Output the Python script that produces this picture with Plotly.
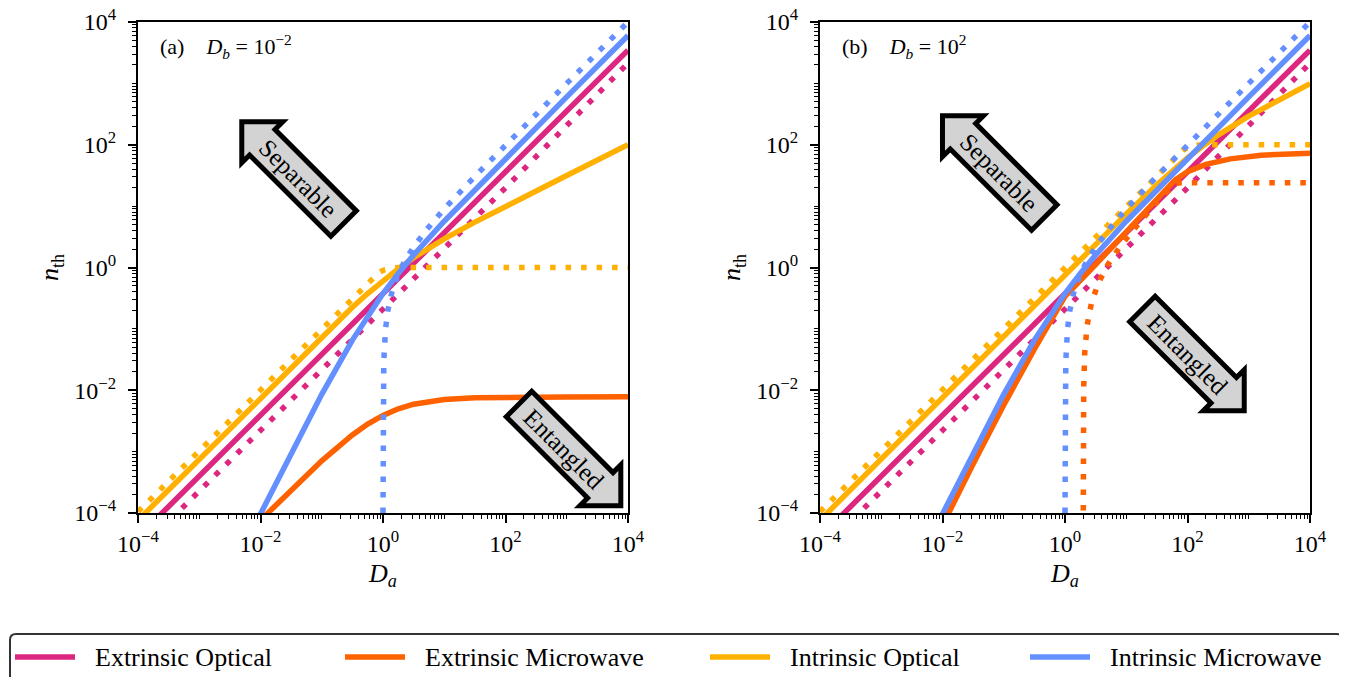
import plotly.graph_objects as go

# ---------------- data ----------------
series_names = ["Extrinsic Optical", "Extrinsic Microwave", "Intrinsic Optical", "Intrinsic Microwave"]
series_colors = ["#dc267f", "#fe6100", "#ffb000", "#648fff"]

panel_labels = ["(a)", "(b)"]
panel_db = ["10<sup>\u22122</sup>", "10<sup>2</sup>"]

tick_vals = [1e-4, 1e-2, 1, 1e2, 1e4]
tick_text = ["10<sup>\u22124</sup>", "10<sup>\u22122</sup>", "10<sup>0</sup>", "10<sup>2</sup>", "10<sup>4</sup>"]

# Extrinsic optical (same in both panels)
da_eo = [1e-4, 1e-2, 1, 1e2, 1e4]
eo_solid = [4.07e-5, 3.85e-3, 0.376, 36.5, 3470]
eo_dotted = [2.34e-5, 2.2e-3, 0.21, 19.9, 2140]

# Intrinsic microwave (same in both panels)
da_im = [0.00631, 0.01, 0.0316, 0.1, 0.316, 0.562, 1, 1.78, 3.16, 10, 100, 1000, 10000]
im_solid = [3.94e-5, 9.84e-5, 9.5e-4, 8.58e-3, 0.0656, 0.164, 0.376, 0.80, 1.60, 5.68, 59.9, 602, 6024]
da_im_dot = [1.0001, 1.001, 1.003, 1.01, 1.03, 1.1, 1.2, 1.4, 1.7, 2.2, 3, 5, 10, 30, 100, 1000, 10000]
im_dotted = [1e-4, 1e-3, 3e-3, 0.01, 0.03, 0.1, 0.2, 0.4, 0.7, 1.2, 2, 4, 9, 29, 99, 999, 9999]

# Panel (a): D_b = 1e-2
da_io_a = [1e-4, 1e-3, 1e-2, 0.1, 0.316, 0.562, 1, 1.78, 3.16, 5.62, 10, 31.6, 100, 1000, 10000]
io_solid_a = [7.6e-5, 7.6e-4, 7.6e-3, 0.0745, 0.2247, 0.377, 0.613, 0.958, 1.44, 2.08, 2.93, 5.48, 9.92, 31.6, 100]
da_io_dot_a = [1e-4, 0.5, 0.7, 0.85, 1.0, 1.2, 1.5, 2, 1e4]
io_dotted_a = [1.05e-4, 0.51, 0.70, 0.82, 0.90, 0.96, 0.99, 1.0, 1.0]
da_em_a = [0.00631, 0.01, 0.0316, 0.1, 0.316, 0.562, 1, 1.78, 3.16, 10, 31.6, 100, 1000, 10000]
em_solid_a = [4.89e-5, 7.72e-5, 2.39e-4, 7.09e-4, 1.87e-3, 2.81e-3, 3.9e-3, 4.99e-3, 5.93e-3, 7.09e-3, 7.56e-3, 7.72e-3, 7.79e-3, 7.8e-3]

# Panel (b): D_b = 1e2
da_io_b = [1e-4, 1e-3, 1e-2, 0.1, 1, 10, 31.6, 50, 100, 178, 316, 1000, 3162, 10000]
io_solid_b = [7.6e-5, 7.6e-4, 7.6e-3, 0.076, 0.76, 7.47, 22.3, 33.8, 61.0, 95.5, 143.6, 292.5, 548, 992]
da_io_dot_b = [1e-4, 50, 70, 85, 100, 120, 150, 200, 1e4]
io_dotted_b = [1.05e-4, 51, 70, 82, 90, 96, 99, 100, 100]
da_em_b = [0.00794, 0.0126, 0.0316, 0.1, 0.316, 1, 3.16, 10, 31.6, 63.1, 100, 200, 501, 1585, 10000]
em_solid_b = [4.47e-5, 1e-4, 6.3e-4, 5.75e-3, 0.0468, 0.339, 1.12, 3.8, 12.6, 26.9, 36.3, 47.9, 58.9, 67.6, 72.4]
da_em_dot_b = [1.9903, 1.991, 1.995, 2.02, 2.1, 2.3, 2.7, 3.5, 5, 8, 15, 30, 50, 58, 65, 80, 10000]
em_dotted_b = [1.1e-4, 3.7e-4, 1.85e-3, 0.0111, 0.0407, 0.115, 0.263, 0.559, 1.11, 2.22, 4.81, 11.0, 18.5, 21.8, 23.5, 24, 24]

# ---------------- figure ----------------
# The page body keeps the browser's default 8px margin, so the figure is drawn
# 8px smaller and all reference pixel positions are shifted by that offset.
OFF = 8
W, H = 1347 - OFF, 677 - OFF
SERIF = "Liberation Serif"
LW = 5.5
DOT = "5.5px,10px"


def px(x):
    return (x - OFF) / W


def py(y):
    return 1 - (y - OFF) / H


fig = go.Figure()

panels = [
    ("x", "y", [
        (da_eo, eo_solid, 0, None), (da_eo, eo_dotted, 0, DOT),
        (da_em_a, em_solid_a, 1, None),
        (da_io_a, io_solid_a, 2, None), (da_io_dot_a, io_dotted_a, 2, DOT),
        (da_im, im_solid, 3, None), (da_im_dot, im_dotted, 3, DOT),
    ]),
    ("x2", "y2", [
        (da_eo, eo_solid, 0, None), (da_eo, eo_dotted, 0, DOT),
        (da_em_b, em_solid_b, 1, None), (da_em_dot_b, em_dotted_b, 1, DOT),
        (da_io_b, io_solid_b, 2, None), (da_io_dot_b, io_dotted_b, 2, DOT),
        (da_im, im_solid, 3, None), (da_im_dot, im_dotted, 3, DOT),
    ]),
]
for xa, ya, items in panels:
    for xs, ys, ci, dash in items:
        fig.add_trace(go.Scatter(
            x=xs, y=ys, mode="lines", xaxis=xa, yaxis=ya,
            name=series_names[ci], showlegend=False,
            line=dict(color=series_colors[ci], width=LW, dash=dash or "solid"),
            hoverinfo="skip",
        ))

minor_vals = []
for d in range(-4, 4):
    for k in range(1, 10):
        if k == 1 and d % 2 == 0:
            continue
        minor_vals.append(k * 10.0 ** d)

axis_common = dict(
    type="log", range=[-4, 4], showline=True, linecolor="black", linewidth=2,
    mirror=True, ticks="outside", ticklen=8, tickwidth=1.5, tickcolor="black",
    showgrid=False, zeroline=False, automargin=False, ticklabeloverflow="allow",
    tickmode="array", tickvals=tick_vals, ticktext=tick_text,
    tickfont=dict(family=SERIF, size=24, color="black"),
    minor=dict(tickmode="array", tickvals=minor_vals, ticks="outside", ticklen=4,
               tickwidth=1, tickcolor="black", showgrid=False),
)

ydom = [py(513), py(22)]
xtitle = dict(text="<i>D</i><sub><i>a</i></sub>", font=dict(family=SERIF, size=26, color="black"), standoff=8)
ytitle = dict(text="<i>n</i><sub>th</sub>", font=dict(family=SERIF, size=26, color="black"), standoff=8)

fig.update_layout(
    width=W, height=H, margin=dict(l=0, r=0, t=0, b=0, autoexpand=False),
    paper_bgcolor="white", plot_bgcolor="white", showlegend=False,
    xaxis=dict(axis_common, domain=[px(138), px(628)], anchor="y", title=xtitle),
    yaxis=dict(axis_common, domain=ydom, anchor="x", title=ytitle, ticklabelstandoff=7),
    xaxis2=dict(axis_common, domain=[px(820), px(1310)], anchor="y2", title=xtitle),
    yaxis2=dict(axis_common, domain=ydom, anchor="x2", title=ytitle, ticklabelstandoff=7),
)

# panel labels
for i, xl in enumerate([158, 840]):
    fig.add_annotation(
        x=px(xl), y=py(47), xref="paper", yref="paper", xanchor="left", yanchor="middle",
        text=f"{panel_labels[i]}&nbsp;&nbsp;&nbsp;&nbsp;<i>D</i><sub><i>b</i></sub> = {panel_db[i]}",
        showarrow=False, font=dict(family=SERIF, size=22, color="black"),
    )


# block arrows
def arrow_path(tip, d):
    s = 2 ** -0.5
    ux, uy = -d[0] * s, -d[1] * s   # from tip towards tail
    vx, vy = -uy, ux
    Hh, Wh, S, L = 29, 29, 18, 144
    tx, ty = tip[0] + 3.5 * ux, tip[1] + 3.5 * uy
    pts_uv = [(0, 0), (Hh, Wh), (Hh, S), (L, S), (L, -S), (Hh, -S), (Hh, -Wh)]
    pts = [(tx + u * ux + v * vx, ty + u * uy + v * vy) for u, v in pts_uv]
    path = "M " + " L ".join(f"{px(x):.5f},{py(y):.5f}" for x, y in pts) + " Z"
    center = (tx + 80 * ux, ty + 80 * uy)
    return path, center


arrows = [
    ((239.3, 119.3), (-1, -1), "Separable"),
    ((940.0, 113.3), (-1, -1), "Separable"),
    ((623.3, 508.3), (1, 1), "Entangled"),
    ((1246.7, 413.3), (1, 1), "Entangled"),
]
for tip, d, label in arrows:
    path, c = arrow_path(tip, d)
    fig.add_shape(type="path", path=path, xref="paper", yref="paper",
                  fillcolor="#d3d3d3", line=dict(color="black", width=5), layer="above")
    fig.add_annotation(x=px(c[0]), y=py(c[1]), xref="paper", yref="paper",
                       xanchor="center", yanchor="middle",
                       text=label, textangle=45, showarrow=False,
                       font=dict(family=SERIF, size=25, color="black"))

# legend (drawn manually to match the reference layout)
lx0, ly0, lx1, ly1, r = 10, 634, 1343, 700, 6
box = (f"M {px(lx0 + r)},{py(ly0)} L {px(lx1 - r)},{py(ly0)} "
       f"Q {px(lx1)},{py(ly0)} {px(lx1)},{py(ly0 + r)} L {px(lx1)},{py(ly1)} "
       f"L {px(lx0)},{py(ly1)} L {px(lx0)},{py(ly0 + r)} Q {px(lx0)},{py(ly0)} {px(lx0 + r)},{py(ly0)} Z")
fig.add_shape(type="path", path=box, xref="paper", yref="paper",
              line=dict(color="#333333", width=2), fillcolor="white", layer="above")
for i, xs in enumerate([15, 345, 710, 1030]):
    fig.add_shape(type="line", xref="paper", yref="paper",
                  x0=px(xs), x1=px(xs + 60), y0=py(657), y1=py(657),
                  line=dict(color=series_colors[i], width=LW), layer="above")
    fig.add_annotation(x=px(xs + 78), y=py(657), xref="paper", yref="paper",
                       xanchor="left", yanchor="middle", text=series_names[i], showarrow=False,
                       font=dict(family=SERIF, size=26, color="black"))

fig.write_html("out.html")
